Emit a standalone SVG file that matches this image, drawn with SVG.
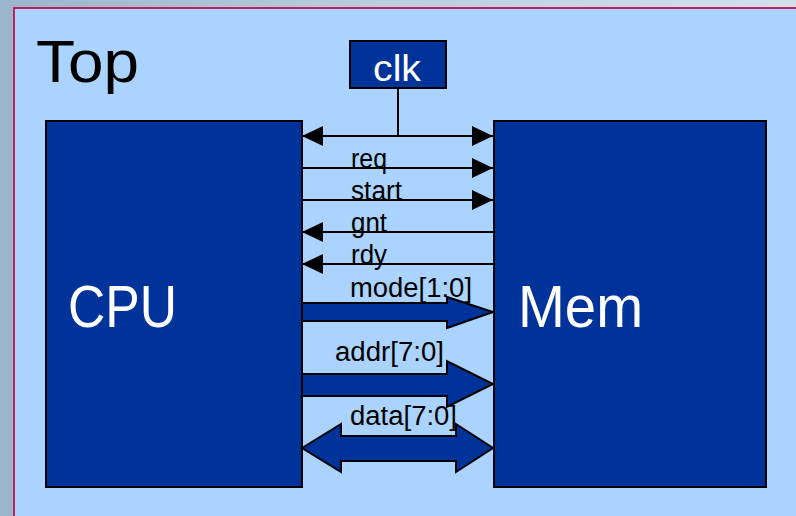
<svg xmlns="http://www.w3.org/2000/svg" width="796" height="516" viewBox="0 0 796 516">
  <defs>
    <linearGradient id="bgGrad" x1="0" y1="0" x2="1" y2="0">
      <stop offset="0" stop-color="#9cb4cb"/>
      <stop offset="0.5" stop-color="#bccfe0"/>
      <stop offset="1" stop-color="#d2e0ec"/>
    </linearGradient>
    <marker id="head" viewBox="0 0 21 20" refX="21" refY="10" markerWidth="21" markerHeight="20" markerUnits="userSpaceOnUse" orient="auto-start-reverse">
      <path d="M0,0 L21,10 L0,20 z" fill="#000"/>
    </marker>
    <style>
      .block { fill: #003399; stroke: #000; stroke-width: 2; }
      .wire { stroke: #000; stroke-width: 2; fill: none; }
      .bus { fill: #003399; stroke: #000; stroke-width: 2; stroke-linejoin: miter; }
      .big { font-family: "Liberation Sans", Arial, sans-serif; font-size: 60px; }
      .sig { font-family: "Liberation Sans", Arial, sans-serif; font-size: 27px; fill: #000; }
    </style>
  </defs>

  <!-- slide background and frame -->
  <rect x="0" y="0" width="796" height="516" fill="url(#bgGrad)"/>
  <rect x="14" y="8" width="790" height="520" fill="#aad4ff" stroke="#c0104a" stroke-width="1.8"/>

  <text class="big" x="36" y="82" textLength="103" lengthAdjust="spacingAndGlyphs" fill="#000">Top</text>

  <!-- blocks -->
  <g id="cpu">
    <rect class="block" x="46" y="121" width="256" height="366"/>
    <text class="big" x="68" y="327" textLength="109" lengthAdjust="spacingAndGlyphs" fill="#fff">CPU</text>
  </g>
  <g id="mem">
    <rect class="block" x="494" y="121" width="272" height="366"/>
    <text class="big" x="518" y="327" textLength="125" lengthAdjust="spacingAndGlyphs" fill="#fff">Mem</text>
  </g>
  <g id="clk">
    <rect class="block" x="350" y="41" width="96" height="47"/>
    <text x="373" y="81" font-family="Liberation Sans, Arial, sans-serif" font-size="36" textLength="48" lengthAdjust="spacingAndGlyphs" fill="#fff">clk</text>
  </g>

  <!-- interface signals -->
  <g id="connectors">
    <line class="wire" x1="398" y1="88" x2="398" y2="136"/>
    <line class="wire" x1="302" y1="136" x2="493" y2="136" marker-start="url(#head)" marker-end="url(#head)"/>
    <line class="wire" x1="302" y1="168" x2="493" y2="168" marker-end="url(#head)"/>
    <line class="wire" x1="302" y1="200" x2="493" y2="200" marker-end="url(#head)"/>
    <line class="wire" x1="493" y1="232" x2="302" y2="232" marker-end="url(#head)"/>
    <line class="wire" x1="493" y1="264" x2="302" y2="264" marker-end="url(#head)"/>

    <polygon class="bus" points="302,303 447,303 447,297 493,312 447,328 447,321 302,321"/>
    <polygon class="bus" points="302,374 447,374 447,361 493,384 447,407 447,396 302,396"/>
    <polygon class="bus" points="302,448 341,424 341,436 456,436 456,424 493,448 456,472 456,461 341,461 341,472"/>

    <text class="sig" x="351" y="168" textLength="36" lengthAdjust="spacingAndGlyphs">req</text>
    <text class="sig" x="351" y="200" textLength="51" lengthAdjust="spacingAndGlyphs">start</text>
    <text class="sig" x="351" y="232" textLength="36" lengthAdjust="spacingAndGlyphs">gnt</text>
    <text class="sig" x="351" y="264" textLength="36" lengthAdjust="spacingAndGlyphs">rdy</text>
    <text class="sig" x="350" y="297" textLength="122" lengthAdjust="spacingAndGlyphs">mode[1:0]</text>
    <text class="sig" x="335" y="361" textLength="109" lengthAdjust="spacingAndGlyphs">addr[7:0]</text>
    <text class="sig" x="350" y="425" textLength="107" lengthAdjust="spacingAndGlyphs">data[7:0]</text>
  </g>
</svg>
